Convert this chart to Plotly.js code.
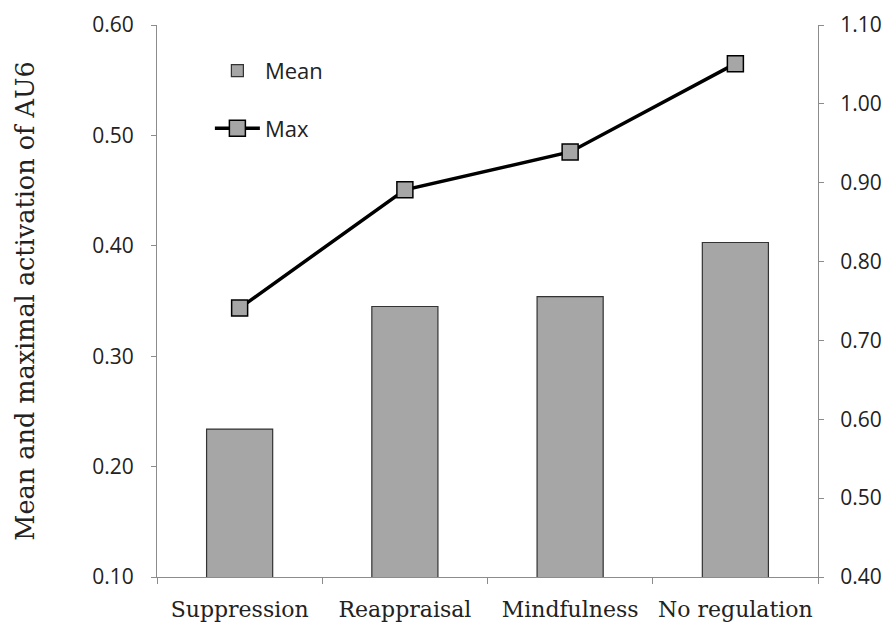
<!DOCTYPE html>
<html>
<head>
<meta charset="utf-8">
<script src="https://cdn.plot.ly/plotly-3.0.1.min.js"></script>
<style>
  html, body { margin: 0; padding: 0; background: #fff; }
  #chart { width: 892px; height: 635px; }
</style>
</head>
<body>
<div id="chart"></div>
<script>
  var categories = ['Suppression', 'Reappraisal', 'Mindfulness', 'No regulation'];
  var meanValues = [0.234, 0.345, 0.354, 0.403];
  var maxValues = [0.741, 0.891, 0.939, 1.051];
  var leftTicks = [0.10, 0.20, 0.30, 0.40, 0.50, 0.60];
  var rightTicks = [0.40, 0.50, 0.60, 0.70, 0.80, 0.90, 1.00, 1.10];

  var axisGrey = '#8c8c8c';
  var tickFont = { family: 'Open Sans, sans-serif', size: 21, color: '#222' };
  var serif = 'DejaVu Serif, serif';

  var meanBars = {
    x: categories,
    y: meanValues,
    type: 'bar',
    name: 'Mean',
    legendgroup: 'mean',
    width: 0.4,
    marker: {
      color: '#a6a6a6',
      line: { color: '#333', width: 1.2 }
    },
    yaxis: 'y'
  };

  var maxLine = {
    x: categories,
    y: maxValues,
    type: 'scatter',
    mode: 'lines+markers',
    name: 'Max',
    legendgroup: 'max',
    line: { color: '#000', width: 3.5 },
    marker: {
      symbol: 'square',
      size: 16,
      color: '#a6a6a6',
      line: { color: '#000', width: 1.5 }
    },
    yaxis: 'y2'
  };

  var layout = {
    width: 892,
    height: 635,
    margin: { l: 157, r: 74, t: 25, b: 58 },
    paper_bgcolor: '#fff',
    plot_bgcolor: '#fff',
    showlegend: true,
    legend: {
      x: 0.08,
      y: 0.955,
      xanchor: 'left',
      yanchor: 'top',
      traceorder: 'grouped',
      tracegroupgap: 26,
      itemwidth: 45,
      bgcolor: 'rgba(0,0,0,0)',
      font: { family: 'Open Sans, sans-serif', size: 22, color: '#222' }
    },
    xaxis: {
      type: 'category',
      showline: true,
      linecolor: axisGrey,
      linewidth: 1.2,
      ticks: 'outside',
      tickson: 'boundaries',
      ticklen: 6,
      tickcolor: axisGrey,
      tickangle: 0,
      ticklabelstandoff: 12,
      showgrid: false,
      zeroline: false,
      tickfont: { family: serif, size: 22, color: '#222' }
    },
    yaxis: {
      range: [0.1, 0.6],
      tickvals: leftTicks,
      tickformat: '.2f',
      showline: true,
      linecolor: axisGrey,
      linewidth: 1.2,
      ticks: 'outside',
      ticklen: 5,
      tickcolor: axisGrey,
      ticklabelstandoff: 13,
      showgrid: false,
      zeroline: false,
      tickfont: tickFont,
      title: {
        text: 'Mean and maximal activation of AU6',
        font: { family: serif, size: 25.5, color: '#222' },
        standoff: 50
      }
    },
    yaxis2: {
      range: [0.4, 1.1],
      tickvals: rightTicks,
      tickformat: '.2f',
      overlaying: 'y',
      side: 'right',
      showline: true,
      linecolor: axisGrey,
      linewidth: 1.2,
      ticks: 'outside',
      ticklen: 5,
      tickcolor: axisGrey,
      ticklabelstandoff: 12,
      showgrid: false,
      zeroline: false,
      tickfont: tickFont
    }
  };

  Plotly.newPlot('chart', [meanBars, maxLine], layout, { displayModeBar: false });
</script>
</body>
</html>
